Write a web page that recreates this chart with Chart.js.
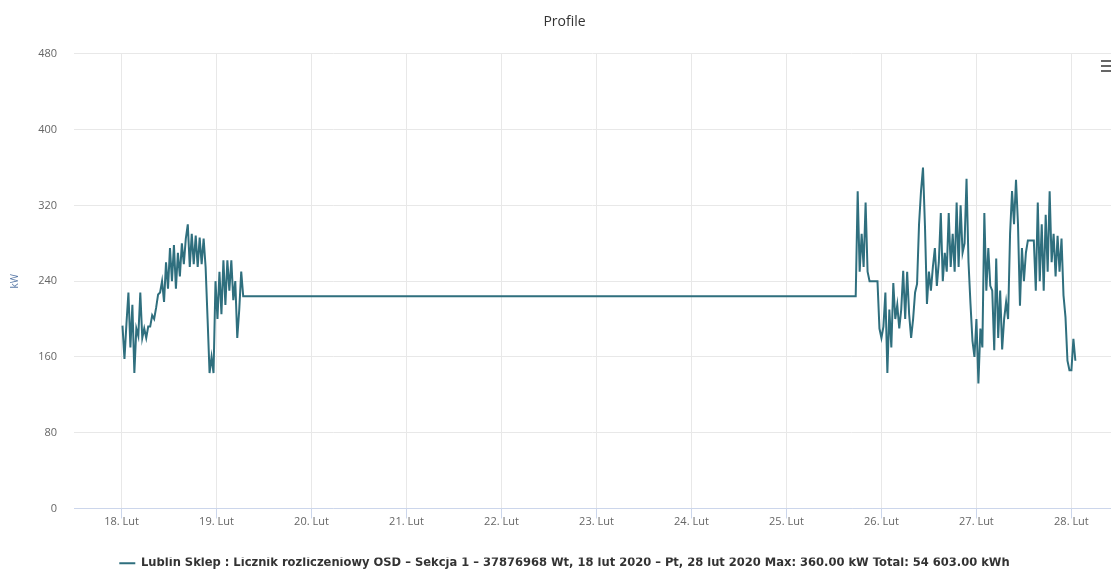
<!DOCTYPE html>
<html>
<head>
<meta charset="utf-8">
<script src="https://cdn.jsdelivr.net/npm/chart.js@4.4.1/dist/chart.umd.min.js"></script>
<style>
  html, body { margin: 0; padding: 0; background: #fff; }
  canvas { display: block; }
</style>
</head>
<body>
<canvas id="profileChart" width="1111" height="569"></canvas>
<script>
// day labels on x axis (hours from 18 Lut 00:00, one tick per day)
const dayLabels = ['18. Lut', '19. Lut', '20. Lut', '21. Lut', '22. Lut', '23. Lut',
  '24. Lut', '25. Lut', '26. Lut', '27. Lut', '28. Lut'];
const yTicks = [0, 80, 160, 240, 320, 400, 480];

const stepHours = 0.5;

// 18-19 Lut readings (kW), starting at 00:15
const part1Start = 0.25;
const part1 = [193, 158, 195, 228, 170, 215, 143, 190, 182, 228, 180, 190, 180, 192, 192, 204,
  200, 212, 226, 228, 240, 218, 260, 232, 275, 240, 278, 232, 270, 245, 280, 258,
  285, 300, 255, 290, 258, 288, 255, 286, 258, 285, 255, 200, 143, 160, 143, 240,
  200, 250, 205, 262, 215, 262, 230, 262, 220, 240, 180, 210, 250, 224];

// flat level between the two measured blocks
const flatLevel = 224;
const flatEnd = 185.5;

// 25-28 Lut readings (kW), starting at 25 Lut 18:00
const part2Start = 186;
const part2 = [335, 250, 290, 255, 323, 250, 240, 240, 240, 240, 240, 190, 180, 192, 228, 143,
  210, 170, 238, 200, 215, 190, 210, 251, 200, 250, 205, 180, 200, 228, 237, 300,
  335, 360, 298, 216, 250, 230, 255, 275, 235, 260, 312, 240, 270, 250, 312, 255,
  290, 250, 323, 255, 320, 270, 280, 348, 260, 216, 177, 160, 200, 132, 190, 170,
  312, 230, 275, 235, 230, 167, 264, 180, 230, 168, 200, 218, 200, 290, 335, 300,
  347, 300, 214, 275, 240, 270, 283, 283, 283, 283, 230, 323, 240, 300, 230, 310,
  250, 335, 260, 290, 245, 288, 250, 285, 225, 202, 156, 146, 146, 179, 156];

const legendText = 'Lublin Sklep : Licznik rozliczeniowy OSD \u2013 Sekcja 1 \u2013 37876968 Wt, 18 lut 2020 \u2013 Pt, 28 lut 2020 Max: 360.00 kW Total: 54 603.00 kWh';

const points = [];
part1.forEach((v, i) => points.push({ x: part1Start + i * stepHours, y: v }));
points.push({ x: flatEnd, y: flatLevel });
part2.forEach((v, i) => points.push({ x: part2Start + i * stepHours, y: v }));

const FONT = "'Open Sans', 'Noto Sans', sans-serif";
Chart.defaults.font.family = FONT;

// small export menu icon in the top right corner
const menuIcon = {
  id: 'menuIcon',
  afterDraw(chart) {
    const ctx = chart.ctx;
    ctx.save();
    ctx.strokeStyle = '#666';
    ctx.lineWidth = 2;
    [61, 66, 71].forEach((y) => {
      ctx.beginPath();
      ctx.moveTo(1101, y);
      ctx.lineTo(1111, y);
      ctx.stroke();
    });
    ctx.restore();
  }
};

new Chart(document.getElementById('profileChart'), {
  type: 'line',
  data: {
    datasets: [{
      label: legendText,
      data: points,
      borderColor: '#2f6f7e',
      backgroundColor: '#2f6f7e',
      borderWidth: 2,
      pointRadius: 0,
      tension: 0,
      fill: false
    }]
  },
  options: {
    responsive: false,
    animation: false,
    devicePixelRatio: 1,
    layout: { padding: { left: 18, right: 0, top: 0, bottom: -10 } },
    plugins: {
      title: {
        display: true,
        text: 'Profile',
        color: '#333',
        font: { size: 14, weight: 'normal' },
        padding: { top: 14, bottom: 23 }
      },
      legend: {
        position: 'bottom',
        labels: {
          usePointStyle: true,
          pointStyle: 'line',
          pointStyleWidth: 16,
          padding: 0,
          color: '#333',
          font: { family: "'DejaVu Sans', sans-serif", size: 11.5, weight: 'bold' }
        }
      },
      tooltip: { enabled: false }
    },
    scales: {
      x: {
        type: 'linear',
        min: -12,
        max: 250,
        afterBuildTicks: (axis) => {
          axis.ticks = dayLabels.map((_, i) => ({ value: i * 24 }));
        },
        afterFit: (axis) => { axis.height = 49; },
        ticks: {
          autoSkip: false,
          maxRotation: 0,
          padding: -3,
          color: '#666',
          font: { size: 11 },
          callback: (value, index) => dayLabels[index]
        },
        grid: {
          color: '#e8e8e8',
          tickColor: '#ccd6eb',
          tickLength: 10
        },
        border: { color: '#ccd6eb', width: 1 }
      },
      y: {
        min: 0,
        max: 480,
        afterBuildTicks: (axis) => {
          axis.ticks = yTicks.map((v) => ({ value: v }));
        },
        afterFit: (axis) => { axis.width = 56; },
        ticks: {
          padding: 17,
          color: '#666',
          font: { size: 11 }
        },
        grid: {
          color: '#e8e8e8',
          drawTicks: false
        },
        border: { display: false },
        title: {
          display: true,
          text: 'kW',
          color: '#5b7ba8',
          font: { size: 10 },
          padding: { top: -9, bottom: 0 }
        }
      }
    }
  },
  plugins: [menuIcon]
});
</script>
</body>
</html>
